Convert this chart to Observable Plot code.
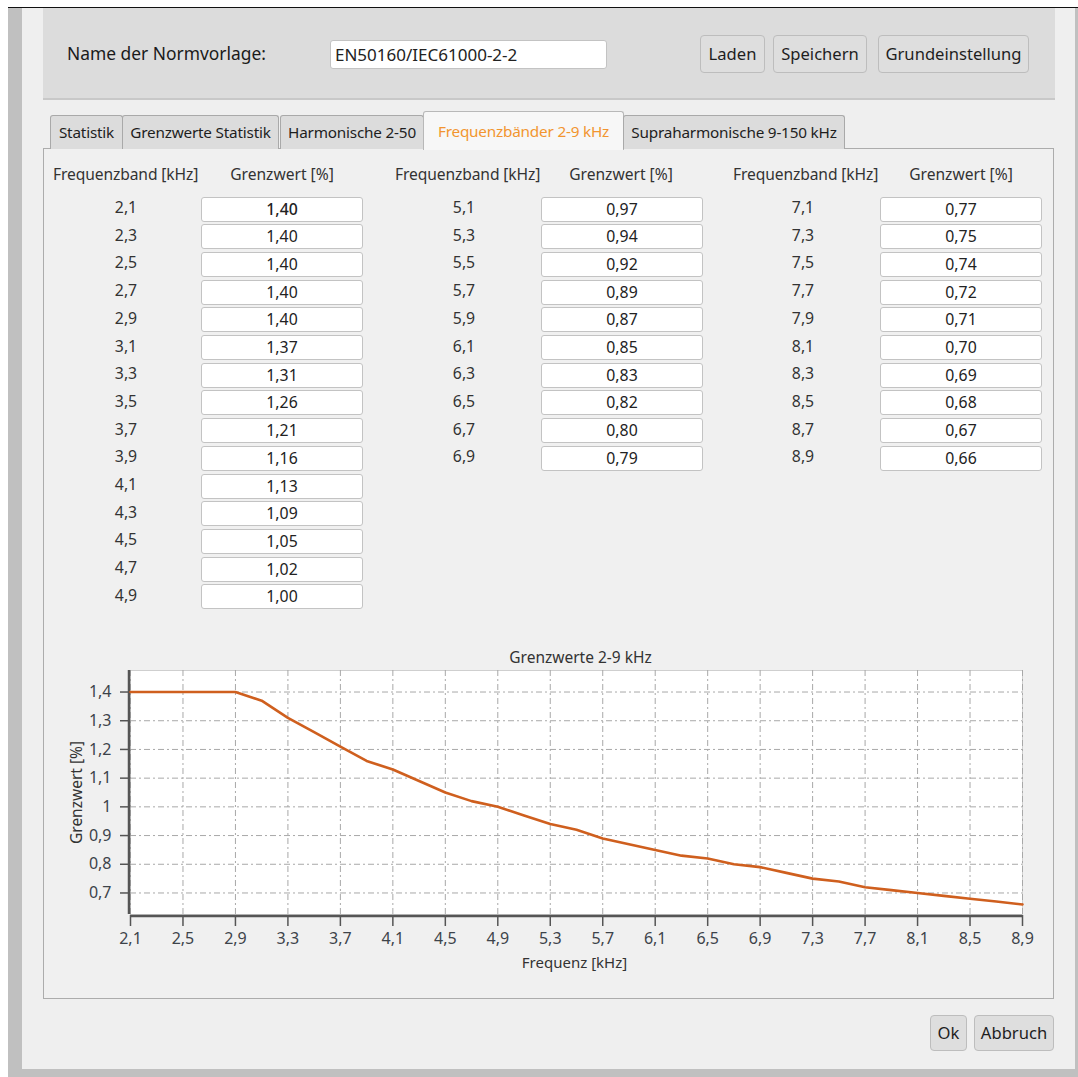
<!DOCTYPE html>
<html>
<head>
<meta charset="utf-8">
<script src="https://cdn.jsdelivr.net/npm/d3@7"></script>
<script src="https://cdn.jsdelivr.net/npm/@observablehq/plot@0.6"></script>
<style>
  html, body { margin: 0; padding: 0; background: #ffffff; }
  body { width: 1078px; height: 1077px; position: relative; overflow: hidden;
         font-family: "Noto Sans", "Open Sans", sans-serif; color: #333; }
  .abs { position: absolute; }
  .lbl { position: absolute; white-space: nowrap; line-height: 1; }
  .box { position: absolute; background: #fff; border: 1px solid #c3c3c3; border-radius: 3px;
         box-sizing: border-box; text-align: center; font-size: 15.8px; color: #222; }
  .btn { position: absolute; background: #dedede; border: 1px solid #bdbdbd; border-radius: 4px;
         box-sizing: border-box; text-align: center; font-size: 16.6px; color: #1e1e1e; white-space: nowrap; }
  .tab { position: absolute; background: #dcdcdc; border: 1px solid #a9a9a9; border-bottom: none;
         border-radius: 3px 3px 0 0; box-sizing: border-box; font-size: 15.3px; color: #1e1e1e;
         text-align: center; white-space: nowrap; letter-spacing: -0.2px; }
</style>
</head>
<body>
<div id="root"></div>
<script>
// ---------- data ----------
const templateName = "EN50160/IEC61000-2-2";
const frequencies = [2.1, 2.3, 2.5, 2.7, 2.9, 3.1, 3.3, 3.5, 3.7, 3.9, 4.1, 4.3, 4.5, 4.7, 4.9,
                     5.1, 5.3, 5.5, 5.7, 5.9, 6.1, 6.3, 6.5, 6.7, 6.9,
                     7.1, 7.3, 7.5, 7.7, 7.9, 8.1, 8.3, 8.5, 8.7, 8.9];
const limits = [1.40, 1.40, 1.40, 1.40, 1.40, 1.37, 1.31, 1.26, 1.21, 1.16, 1.13, 1.09, 1.05, 1.02, 1.00,
                0.97, 0.94, 0.92, 0.89, 0.87, 0.85, 0.83, 0.82, 0.80, 0.79,
                0.77, 0.75, 0.74, 0.72, 0.71, 0.70, 0.69, 0.68, 0.67, 0.66];
const groupSizes = [15, 10, 10];
const tabs = ["Statistik", "Grenzwerte Statistik", "Harmonische 2-50", "Frequenzbänder 2-9 kHz", "Supraharmonische 9-150 kHz"];
const activeTab = 3;
const xTicks = [2.1, 2.5, 2.9, 3.3, 3.7, 4.1, 4.5, 4.9, 5.3, 5.7, 6.1, 6.5, 6.9, 7.3, 7.7, 8.1, 8.5, 8.9];
const yTicks = [0.7, 0.8, 0.9, 1.0, 1.1, 1.2, 1.3, 1.4];

const comma = d => String(d).replace(".", ",");
const root = document.getElementById("root");
function el(cls, style, text) {
  const d = document.createElement("div");
  if (cls) d.className = cls;
  Object.assign(d.style, style);
  if (text != null) d.textContent = text;
  root.appendChild(d);
  return d;
}

// ---------- window frame ----------
el("abs", {left: "8px", top: "7px", width: "1070px", height: "1.5px", background: "#111"});
el("abs", {left: "8px", top: "8px", width: "1070px", height: "1069px", background: "#c0c0c0"});
el("abs", {left: "22px", top: "8px", width: "1053px", height: "1061px", background: "#efefef"});

// header panel
el("abs", {left: "43px", top: "8px", width: "1012px", height: "90px", background: "#dcdcdc", borderBottom: "2px solid #c8c8c8"});
el("lbl", {left: "67px", top: "45px", fontSize: "17.4px", color: "#1a1a1a"}, "Name der Normvorlage:");
el("box", {left: "330px", top: "40px", width: "277px", height: "29px", textAlign: "left", paddingLeft: "4px", lineHeight: "27px", fontSize: "17px"}, templateName);
[["Laden", 700, 65], ["Speichern", 773, 94], ["Grundeinstellung", 878, 151]].forEach(([t, x, w]) => {
  el("btn", {left: x + "px", top: "35px", width: w + "px", height: "38px", lineHeight: "36px"}, t);
});

// tabs
const tabPos = [[50, 73], [122, 157], [280, 144], [423, 201], [623, 222]];
el("abs", {left: "43px", top: "148px", width: "1011px", height: "851px", border: "1px solid #acacac", boxSizing: "border-box", background: "#f0f0f0"});
tabs.forEach((t, i) => {
  const [x, w] = tabPos[i];
  const act = i === activeTab;
  el("tab", {left: x + "px", top: (act ? 111 : 115) + "px", width: w + "px", height: (act ? 39 : 34) + "px",
             lineHeight: (act ? 38 : 33) + "px", background: act ? "#f7f7f7" : "#dcdcdc",
             color: act ? "#f2952f" : "#1e1e1e", borderColor: act ? "#b8b8b8" : "#a9a9a9"}, t);
});

// table
const labelCx = [126, 464, 803];
const headLeft = [53, 395, 733];
const gwCx = [282, 621, 961];
const boxLeft = [201, 541, 880];
let idx = 0;
groupSizes.forEach((n, g) => {
  el("lbl", {left: headLeft[g] + "px", top: "167px", fontSize: "15.6px", color: "#333", letterSpacing: "-0.1px"}, "Frequenzband [kHz]");
  el("lbl", {left: (gwCx[g] - 70) + "px", width: "140px", textAlign: "center", top: "167px", fontSize: "15.6px", color: "#333"}, "Grenzwert [%]");
  for (let r = 0; r < n; r++, idx++) {
    const cy = 209 + r * 27.7;
    el("lbl", {left: (labelCx[g] - 40) + "px", width: "80px", textAlign: "center", top: (cy - 9) + "px", fontSize: "15.8px", color: "#333"}, comma(frequencies[idx]));
    el("box", {left: boxLeft[g] + "px", top: (cy - 12.5) + "px", width: "162px", height: "25px", lineHeight: "23px",
               fontWeight: (idx === 0 ? "500" : "400")}, limits[idx].toFixed(2).replace(".", ","));
  }
});

// bottom buttons
el("btn", {left: "930px", top: "1015px", width: "37px", height: "36px", lineHeight: "34px"}, "Ok");
el("btn", {left: "974px", top: "1015px", width: "80px", height: "36px", lineHeight: "34px"}, "Abbruch");

// ---------- chart ----------
const data = frequencies.map((f, i) => ({f, v: limits[i]}));
const fmt = d => comma(Math.round(d * 10) / 10);
const chart = Plot.plot({
  width: 1000,
  height: 340,
  marginLeft: 86,
  marginRight: 22,
  marginTop: 30,
  marginBottom: 66,
  style: {background: "transparent", fontFamily: "'Noto Sans', sans-serif", fontSize: "16px", color: "#3d434a", overflow: "visible"},
  x: {domain: [2.1, 8.9]},
  y: {domain: [0.625, 1.475]},
  marks: [
    Plot.frame({fill: "white", stroke: "#cfcfcf"}),
    Plot.gridX(xTicks, {stroke: "#a8a8a8", strokeOpacity: 1, strokeDasharray: "6,3,2,3"}),
    Plot.gridY(yTicks, {stroke: "#a8a8a8", strokeOpacity: 1, strokeDasharray: "6,3,2,3"}),
    Plot.axisX(xTicks, {tickSize: 11, tickPadding: 6, tickFormat: fmt, label: null, stroke: "#555", strokeWidth: 1.5, dy: 1}),
    Plot.axisY(yTicks, {tickSize: 9, tickPadding: 9, tickFormat: fmt, label: null, stroke: "#555", strokeWidth: 1.5, dx: -1}),
    Plot.ruleY([0.625], {stroke: "#555", strokeWidth: 2.5, dy: 1.5}),
    Plot.ruleX([2.1], {stroke: "#555", strokeWidth: 2.5, dx: -1.5}),
    Plot.line(data, {x: "f", y: "v", stroke: "#cf5f1e", strokeWidth: 2.6}),
    Plot.text(["Frequenz [kHz]"], {frameAnchor: "bottom", dy: 53, dx: -2, fontSize: 15, fill: "#333"}),
    Plot.text(["Grenzwert [%]"], {frameAnchor: "left", textAnchor: "middle", rotate: -90, dx: -53, fontSize: 15.5, fill: "#333"}),
    Plot.text(["Grenzwerte 2-9 kHz"], {frameAnchor: "top", dy: -19, dx: 4, fontSize: 15.5, fill: "#333"})
  ]
});
Object.assign(chart.style, {position: "absolute", left: "44px", top: "640px"});
root.appendChild(chart);
</script>
</body>
</html>
